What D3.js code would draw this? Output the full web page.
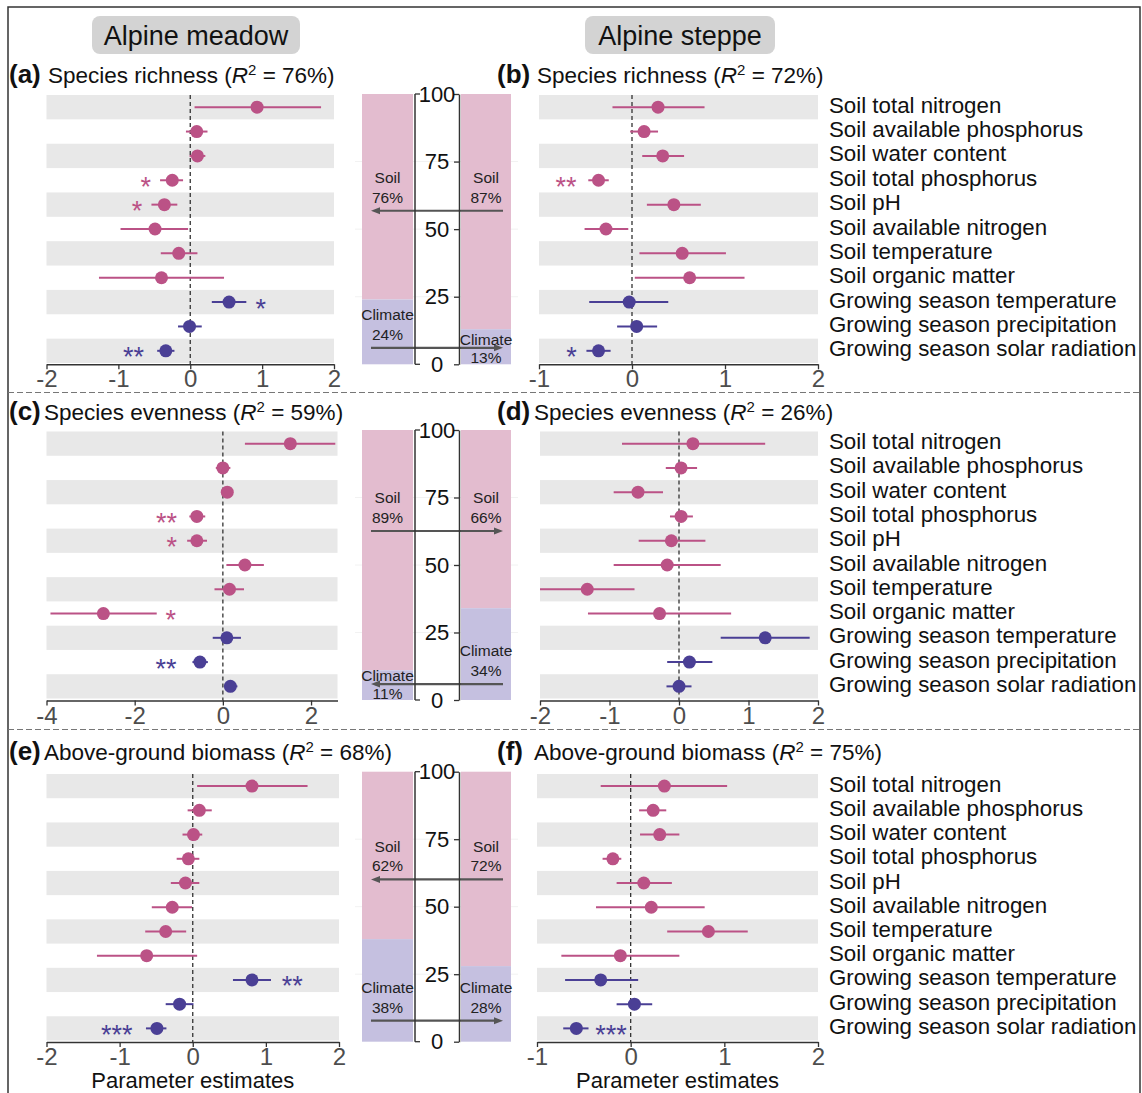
<!DOCTYPE html>
<html>
<head>
<meta charset="utf-8">
<script src="https://cdn.jsdelivr.net/npm/d3@7"></script>
<style>
  body { margin: 0; background: #fff; }
  text { font-family: "Liberation Sans", Arial, sans-serif; }
</style>
</head>
<body>
<svg id="chart" width="1142" height="1093"></svg>
<script>
// predictors (row order, top to bottom)
var predictors = ["Soil total nitrogen", "Soil available phosphorus", "Soil water content",
  "Soil total phosphorus", "Soil pH", "Soil available nitrogen", "Soil temperature",
  "Soil organic matter", "Growing season temperature", "Growing season precipitation",
  "Growing season solar radiation"];
var groups = ["soil", "soil", "soil", "soil", "soil", "soil", "soil", "soil", "climate", "climate", "climate"];

// (a) meadow richness
var estA = [0.93, 0.09, 0.10, -0.25, -0.36, -0.49, -0.16, -0.40, 0.54, -0.01, -0.34];
var loA  = [0.06, -0.06, -0.01, -0.42, -0.54, -0.97, -0.41, -1.27, 0.30, -0.17, -0.46];
var hiA  = [1.82, 0.24, 0.21, -0.10, -0.18, -0.03, 0.10, 0.47, 0.78, 0.16, -0.22];
var sigA = ["", "", "", "*", "*", "", "", "", "*", "", "**"];
var sigXA = [null, null, null, -0.62, -0.74, null, null, null, 0.98, null, -0.79];
// (b) steppe richness
var estB = [0.28, 0.13, 0.33, -0.36, 0.45, -0.28, 0.54, 0.62, -0.03, 0.05, -0.36];
var loB  = [-0.21, -0.02, 0.11, -0.47, 0.16, -0.51, 0.08, 0.03, -0.46, -0.16, -0.49];
var hiB  = [0.78, 0.28, 0.56, -0.25, 0.74, -0.04, 1.01, 1.21, 0.39, 0.27, -0.23];
var sigB = ["", "", "", "**", "", "", "", "", "", "", "*"];
var sigXB = [null, null, null, -0.71, null, null, null, null, null, null, -0.65];
// (c) meadow evenness
var estC = [1.53, 0.00, 0.10, -0.59, -0.59, 0.50, 0.15, -2.71, 0.09, -0.52, 0.17];
var loC  = [0.50, -0.16, 0.00, -0.76, -0.81, 0.08, -0.19, -3.91, -0.23, -0.69, 0.03];
var hiC  = [2.55, 0.17, 0.21, -0.40, -0.36, 0.93, 0.48, -1.50, 0.41, -0.34, 0.33];
var sigC = ["", "", "", "**", "*", "", "", "*", "", "**", ""];
var sigXC = [null, null, null, -1.28, -1.16, null, null, -1.18, null, -1.29, null];
// (d) steppe evenness
var estD = [0.20, 0.03, -0.59, 0.03, -0.11, -0.17, -1.32, -0.28, 1.24, 0.15, 0.00];
var loD  = [-0.82, -0.19, -0.94, -0.13, -0.58, -0.94, -2.00, -1.31, 0.60, -0.17, -0.18];
var hiD  = [1.24, 0.26, -0.23, 0.20, 0.38, 0.60, -0.64, 0.75, 1.88, 0.48, 0.18];
var sigD = ["", "", "", "", "", "", "", "", "", "", ""];
var sigXD = [null, null, null, null, null, null, null, null, null, null, null];
// (e) meadow biomass
var estE = [0.81, 0.09, 0.01, -0.06, -0.10, -0.28, -0.37, -0.63, 0.81, -0.18, -0.49];
var loE  = [0.06, -0.07, -0.14, -0.22, -0.30, -0.56, -0.65, -1.31, 0.55, -0.37, -0.64];
var hiE  = [1.57, 0.26, 0.13, 0.09, 0.09, -0.01, -0.09, 0.06, 1.07, 0.01, -0.36];
var sigE = ["", "", "", "", "", "", "", "", "**", "", "***"];
var sigXE = [null, null, null, null, null, null, null, null, 1.36, null, -1.04];
// (f) steppe biomass
var estF = [0.36, 0.24, 0.31, -0.19, 0.14, 0.22, 0.83, -0.11, -0.32, 0.04, -0.58];
var loF  = [-0.32, 0.09, 0.10, -0.30, -0.15, -0.37, 0.39, -0.74, -0.70, -0.15, -0.72];
var hiF  = [1.03, 0.38, 0.52, -0.10, 0.44, 0.79, 1.25, 0.52, 0.08, 0.23, -0.45];
var sigF = ["", "", "", "", "", "", "", "", "", "", "***"];
var sigXF = [null, null, null, null, null, null, null, null, null, null, -0.21];

// relative importance (%) per response: richness, evenness, biomass
var soilMeadow = [76, 89, 62];
var climateMeadow = [24, 11, 38];
var soilSteppe = [87, 66, 72];
var climateSteppe = [13, 34, 28];
var barTicks = [0, 25, 50, 75, 100];

var pink = "#bb5286", blue = "#4a3f95";
var pinkBar = "#e3bccf", blueBar = "#c5c0e0";

var svg = d3.select("#chart");
svg.append("rect").attr("width", 1142).attr("height", 1093).attr("fill", "#fff");

// outer frame
svg.append("rect").attr("x", 8).attr("y", 7).attr("width", 1132).attr("height", 1100)
  .attr("fill", "none").attr("stroke", "#333").attr("stroke-width", 1.5);

// section separators
[392.5, 729.5].forEach(function(yy) {
  svg.append("line").attr("x1", 8).attr("x2", 1140).attr("y1", yy).attr("y2", yy)
    .attr("stroke", "#777").attr("stroke-width", 1.2).attr("stroke-dasharray", "6,3");
});

// header boxes
function header(x0, w, label) {
  svg.append("rect").attr("x", x0).attr("y", 16).attr("width", w).attr("height", 38)
    .attr("rx", 8).attr("fill", "#d3d3d3");
  svg.append("text").attr("x", x0 + w / 2).attr("y", 45).attr("text-anchor", "middle")
    .attr("font-size", "27px").attr("fill", "#111").text(label);
}
header(92, 208, "Alpine meadow");
header(585, 190, "Alpine steppe");

function title(xl, xt, yb, lab, name, r2) {
  svg.append("text").attr("x", xl).attr("y", yb).attr("font-size", "26px")
    .attr("font-weight", "bold").attr("fill", "#111").text(lab);
  var t = svg.append("text").attr("x", xt).attr("y", yb).attr("font-size", "22.5px").attr("fill", "#111");
  t.append("tspan").text(name + " (");
  t.append("tspan").attr("font-style", "italic").text("R");
  t.append("tspan").attr("font-size", "15px").attr("dy", -8).text("2");
  t.append("tspan").attr("dy", 8).text(" = " + r2 + "%)");
}

function forest(cfg) {
  var g = svg.append("g");
  var x = d3.scaleLinear().domain(cfg.domain).range(cfg.xr);
  var y = d3.scaleBand().domain(d3.range(predictors.length)).range(cfg.yr);
  var bw = y.bandwidth();
  var xmin = cfg.domain[0], xmax = cfg.domain[1];

  g.selectAll(".band").data(d3.range(predictors.length).filter(function(i) { return i % 2 === 0; }))
    .enter().append("rect")
    .attr("x", cfg.xr[0]).attr("width", cfg.xr[1] - cfg.xr[0])
    .attr("y", function(i) { return y(i); }).attr("height", bw)
    .attr("fill", "#e8e8e8");

  g.append("line").attr("x1", x(0)).attr("x2", x(0)).attr("y1", cfg.yr[0]).attr("y2", cfg.axisY)
    .attr("stroke", "#333").attr("stroke-width", 1.3).attr("stroke-dasharray", "4,3");

  var rows = d3.range(predictors.length).map(function(i) {
    return { i: i, est: cfg.est[i], lo: cfg.lo[i], hi: cfg.hi[i], sig: cfg.sig[i], sx: cfg.sigX[i],
      col: groups[i] === "soil" ? pink : blue };
  });

  g.selectAll(".ci").data(rows).enter().append("line")
    .attr("x1", function(d) { return x(Math.max(d.lo, xmin)); })
    .attr("x2", function(d) { return x(Math.min(d.hi, xmax)); })
    .attr("y1", function(d) { return y(d.i) + bw / 2; })
    .attr("y2", function(d) { return y(d.i) + bw / 2; })
    .attr("stroke", function(d) { return d.col; }).attr("stroke-width", 2);

  g.selectAll(".pt").data(rows).enter().append("circle")
    .attr("cx", function(d) { return x(d.est); })
    .attr("cy", function(d) { return y(d.i) + bw / 2; })
    .attr("r", 6.5).attr("fill", function(d) { return d.col; });

  g.selectAll(".sig").data(rows.filter(function(d) { return d.sig; })).enter().append("text")
    .attr("x", function(d) { return x(d.sx); })
    .attr("y", function(d) { return y(d.i) + bw / 2 + 15.5; })
    .attr("text-anchor", "middle").attr("font-size", "27px")
    .attr("fill", function(d) { return d.col; }).text(function(d) { return d.sig; });

  var ax = g.append("g").attr("transform", "translate(0," + cfg.axisY + ")")
    .call(d3.axisBottom(x).tickValues(cfg.ticks).tickSize(5).tickPadding(1).tickSizeOuter(0)
      .tickFormat(function(d) { return String(d); }));
  ax.select(".domain").attr("stroke", "#333").attr("stroke-width", 1.5);
  ax.selectAll(".tick line").attr("stroke", "#333").attr("stroke-width", 1.3);
  ax.selectAll(".tick text").attr("font-size", "24px").attr("fill", "#4d4d4d")
    .attr("font-family", "Liberation Sans, Arial, sans-serif");

  if (cfg.labels) {
    g.selectAll(".lab").data(predictors).enter().append("text")
      .attr("x", 829).attr("y", function(d, i) { return y(i) + bw / 2 + 5.5; })
      .attr("font-size", "22.3px").attr("fill", "#111").text(function(d) { return d; });
  }
  if (cfg.xlabel) {
    g.append("text").attr("x", (cfg.xr[0] + cfg.xr[1]) / 2).attr("y", 1088)
      .attr("text-anchor", "middle").attr("font-size", "22px").attr("fill", "#111")
      .text("Parameter estimates");
  }
}

function bars(k, top, bottom, soilArrowAt, climArrowAt) {
  var g = svg.append("g");
  var y = d3.scaleLinear().domain([0, 100]).range([bottom, top]);
  var L = [362, 413], R = [461, 511];

  barTicks.slice(1, 4).forEach(function(t) {
    g.append("line").attr("x1", 355).attr("x2", 518).attr("y1", y(t)).attr("y2", y(t))
      .attr("stroke", "#f2f2f2").attr("stroke-width", 1);
  });

  var segs = [
    { x: L, soil: soilMeadow[k], clim: climateMeadow[k] },
    { x: R, soil: soilSteppe[k], clim: climateSteppe[k] }
  ];
  segs.forEach(function(s) {
    g.append("rect").attr("x", s.x[0]).attr("width", s.x[1] - s.x[0])
      .attr("y", y(100)).attr("height", y(s.clim) - y(100)).attr("fill", pinkBar);
    g.append("rect").attr("x", s.x[0]).attr("width", s.x[1] - s.x[0])
      .attr("y", y(s.clim)).attr("height", y(0) - y(s.clim)).attr("fill", blueBar);
  });

  // arrows: from larger share towards smaller share
  function arrow(yy, toRight) {
    var x1 = toRight ? 371 : 503, x2 = toRight ? 503 : 371;
    var dir = toRight ? -1 : 1;
    g.append("line").attr("x1", x1).attr("x2", x2 + dir * 4).attr("y1", yy).attr("y2", yy)
      .attr("stroke", "#555").attr("stroke-width", 2.2);
    g.append("path").attr("d", "M" + x2 + "," + yy + "L" + (x2 + dir * 9) + "," + (yy - 3.5) +
      "L" + (x2 + dir * 9) + "," + (yy + 3.5) + "Z").attr("fill", "#555");
  }
  var soilY = y(soilArrowAt), climY = y(climArrowAt);
  arrow(soilY, soilMeadow[k] > soilSteppe[k]);
  arrow(climY, climateMeadow[k] > climateSteppe[k]);

  function label(cx, yy, name, v) {
    var off = v < 15 ? [-8.7, 10] : [-33, -13.5];
    [name, v + "%"].forEach(function(s, j) {
      g.append("text").attr("x", cx).attr("y", yy + off[j]).attr("dy", "0.35em")
        .attr("text-anchor", "middle").attr("font-size", "15.5px").attr("fill", "#222").text(s);
    });
  }
  label(387.5, soilY, "Soil", soilMeadow[k]);
  label(486, soilY, "Soil", soilSteppe[k]);
  label(387.5, climY, "Climate", climateMeadow[k]);
  label(486, climY, "Climate", climateSteppe[k]);

  // axes between the bars
  g.append("line").attr("x1", 415).attr("x2", 415).attr("y1", y(100)).attr("y2", y(0))
    .attr("stroke", "#333").attr("stroke-width", 1.5);
  [0, 100].forEach(function(t) {
    g.append("line").attr("x1", 415).attr("x2", 420).attr("y1", y(t)).attr("y2", y(t))
      .attr("stroke", "#333").attr("stroke-width", 1.3);
  });
  var ax = g.append("g").attr("transform", "translate(459,0)")
    .call(d3.axisLeft(y).tickValues(barTicks).tickSize(5).tickPadding(0).tickSizeOuter(0));
  ax.select(".domain").attr("stroke", "#333").attr("stroke-width", 1.5);
  ax.selectAll(".tick line").attr("stroke", "#333").attr("stroke-width", 1.3);
  ax.selectAll(".tick text").attr("x", -22).attr("text-anchor", "middle")
    .attr("font-size", "22px").attr("fill", "#111")
    .attr("font-family", "Liberation Sans, Arial, sans-serif");
}

title(9, 48, 83, "(a)", "Species richness", 76);
title(497, 537, 83, "(b)", "Species richness", 72);
title(9, 44, 420, "(c)", "Species evenness", 59);
title(497, 534, 420, "(d)", "Species evenness", 26);
title(9, 44, 760, "(e)", "Above-ground biomass", 68);
title(497, 534, 760, "(f)", "Above-ground biomass", 75);

forest({ est: estA, lo: loA, hi: hiA, sig: sigA, sigX: sigXA, domain: [-2, 2], ticks: [-2, -1, 0, 1, 2],
  xr: [46.5, 334], yr: [95, 363], axisY: 364.3 });
forest({ est: estB, lo: loB, hi: hiB, sig: sigB, sigX: sigXB, domain: [-1, 2], ticks: [-1, 0, 1, 2],
  xr: [539, 818], yr: [95, 363], axisY: 364.3, labels: true });
forest({ est: estC, lo: loC, hi: hiC, sig: sigC, sigX: sigXC, domain: [-4, 2.6], ticks: [-4, -2, 0, 2],
  xr: [46.5, 337.5], yr: [431.5, 698.5], axisY: 700.5 });
forest({ est: estD, lo: loD, hi: hiD, sig: sigD, sigX: sigXD, domain: [-2, 2], ticks: [-2, -1, 0, 1, 2],
  xr: [540, 818], yr: [431.5, 698.5], axisY: 700.5, labels: true });
forest({ est: estE, lo: loE, hi: hiE, sig: sigE, sigX: sigXE, domain: [-2, 2], ticks: [-2, -1, 0, 1, 2],
  xr: [46.5, 339], yr: [774, 1040.5], axisY: 1042, xlabel: true });
forest({ est: estF, lo: loF, hi: hiF, sig: sigF, sigX: sigXF, domain: [-1, 2], ticks: [-1, 0, 1, 2],
  xr: [537, 818], yr: [774, 1040.5], axisY: 1042, labels: true, xlabel: true });

bars(0, 94, 364.3, 56.8, 6.1);
bars(1, 430, 700, 62.6, 5.9);
bars(2, 771.7, 1041.7, 60.1, 7.8);
</script>
</body>
</html>
